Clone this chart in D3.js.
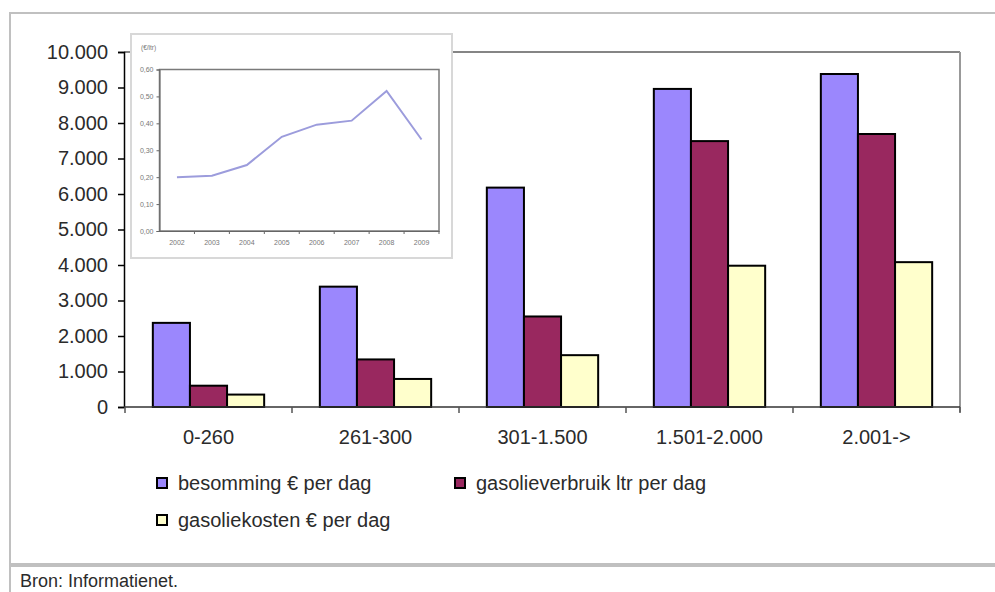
<!DOCTYPE html>
<html>
<head>
<meta charset="utf-8">
<script src="https://cdn.jsdelivr.net/npm/d3@7"></script>
<style>
  body { margin: 0; background: #fff; }
  svg { display: block; font-family: "Liberation Sans", Arial, sans-serif; }
</style>
</head>
<body>
<svg id="chart" width="995" height="592"></svg>
<script>
// main chart data
const categories = ["0-260", "261-300", "301-1.500", "1.501-2.000", "2.001->"];
const seriesNames = ["besomming € per dag", "gasolieverbruik ltr per dag", "gasoliekosten € per dag"];
const besomming = [2370, 3390, 6180, 8960, 9380];
const gasolieverbruik = [600, 1340, 2550, 7490, 7690];
const gasoliekosten = [350, 790, 1460, 3980, 4080];
const yTicks = [0, 1000, 2000, 3000, 4000, 5000, 6000, 7000, 8000, 9000, 10000];

// inset data
const years = ["2002", "2003", "2004", "2005", "2006", "2007", "2008", "2009"];
const prices = [0.20, 0.205, 0.245, 0.35, 0.395, 0.41, 0.52, 0.34];
const insetTicks = [0, 0.1, 0.2, 0.3, 0.4, 0.5, 0.6];

const colors = ["#9b87fd", "#99285f", "#ffffcc"];
const textColor = "#2b2b2b";

const nl = d3.formatLocale({ decimal: ",", thousands: ".", grouping: [3], currency: ["€", ""] });
const fmtInt = nl.format(",d");
const fmtDec = nl.format(".2f");

const svg = d3.select("#chart");

// outer frame
svg.append("line").attr("x1", 10).attr("x2", 995).attr("y1", 13).attr("y2", 13)
  .attr("stroke", "#c0c0c0").attr("stroke-width", 2);
svg.append("line").attr("x1", 10).attr("x2", 10).attr("y1", 12).attr("y2", 592)
  .attr("stroke", "#c0c0c0").attr("stroke-width", 2);
svg.append("rect").attr("x", 10).attr("y", 563).attr("width", 985).attr("height", 4)
  .attr("fill", "#c0c0c0");
svg.append("text").attr("x", 20).attr("y", 587).attr("font-size", 18)
  .attr("fill", textColor).text("Bron: Informatienet.");

const plot = { left: 124, right: 960, top: 52, bottom: 407 };

const x = d3.scaleBand().domain(categories).range([plot.left + 1, plot.right]);
const bw = x.bandwidth();
const x1 = d3.scaleBand().domain(seriesNames).range([bw / 6, bw * 5 / 6]);
const y = d3.scaleLinear().domain([0, 10000]).range([plot.bottom, plot.top]);

// plot area border (top and right)
svg.append("line").attr("x1", plot.left).attr("x2", plot.right).attr("y1", plot.top).attr("y2", plot.top)
  .attr("stroke", "#858585").attr("stroke-width", 2);
svg.append("line").attr("x1", plot.right).attr("x2", plot.right).attr("y1", plot.top).attr("y2", plot.bottom + 5)
  .attr("stroke", "#999").attr("stroke-width", 2);

// bars
const seriesData = [besomming, gasolieverbruik, gasoliekosten];
const groups = svg.append("g").selectAll("g")
  .data(categories)
  .join("g")
  .attr("transform", (d) => `translate(${x(d)},0)`);

groups.selectAll("rect")
  .data((d, i) => seriesNames.map((s, j) => ({ s: s, v: seriesData[j][i], j: j })))
  .join("rect")
  .attr("x", (d) => x1(d.s))
  .attr("y", (d) => y(d.v))
  .attr("width", x1.bandwidth())
  .attr("height", (d) => y(0) - y(d.v))
  .attr("fill", (d) => colors[d.j])
  .attr("stroke", "#000")
  .attr("stroke-width", 2);

// y axis
const yAxis = svg.append("g")
  .attr("transform", `translate(${plot.left},0)`)
  .call(d3.axisLeft(y).tickValues(yTicks).tickFormat(fmtInt).tickSize(6).tickPadding(10));
yAxis.select(".domain").attr("stroke", "#000").attr("stroke-width", 1.5);
yAxis.selectAll(".tick line").attr("stroke", "#000").attr("stroke-width", 1.5);
yAxis.selectAll("text").attr("font-size", 20).attr("fill", textColor)
  .attr("font-family", "Liberation Sans, Arial, sans-serif");

// x axis line + ticks at band boundaries
const xAxis = svg.append("g");
xAxis.append("line").attr("x1", plot.left).attr("x2", plot.right).attr("y1", plot.bottom).attr("y2", plot.bottom)
  .attr("stroke", "#333").attr("stroke-width", 1.5);
const boundaries = categories.map((c) => x(c)).concat([x(categories[categories.length - 1]) + bw]);
xAxis.selectAll(".xt")
  .data(boundaries)
  .join("line")
  .attr("class", "xt")
  .attr("x1", (d) => d).attr("x2", (d) => d)
  .attr("y1", plot.bottom).attr("y2", plot.bottom + 6)
  .attr("stroke", "#555").attr("stroke-width", 1.5);
xAxis.selectAll(".xl")
  .data(categories)
  .join("text")
  .attr("class", "xl")
  .attr("x", (d) => x(d) + bw / 2)
  .attr("y", 444)
  .attr("text-anchor", "middle")
  .attr("font-size", 20)
  .attr("fill", textColor)
  .text((d) => d);

// legend
const legendPos = [
  { x: 157, y: 483 },
  { x: 455, y: 483 },
  { x: 157, y: 520 }
];
const legend = svg.append("g").selectAll("g")
  .data(seriesNames)
  .join("g")
  .attr("transform", (d, i) => `translate(${legendPos[i].x},${legendPos[i].y})`);
legend.append("rect")
  .attr("x", 0).attr("y", -5).attr("width", 10).attr("height", 10)
  .attr("fill", (d, i) => colors[i])
  .attr("stroke", "#000").attr("stroke-width", 2);
legend.append("text")
  .attr("x", 21).attr("y", 7)
  .attr("font-size", 20)
  .attr("fill", textColor)
  .text((d) => d);

// inset line chart
const inset = svg.append("g");
inset.append("rect")
  .attr("x", 131).attr("y", 34).attr("width", 321).attr("height", 224)
  .attr("fill", "#fff").attr("stroke", "#d8d8d8").attr("stroke-width", 2);

const ip = { left: 159.5, right: 439, top: 69.5, bottom: 231 };
const ix = d3.scaleBand().domain(years).range([ip.left, ip.right]);
const iy = d3.scaleLinear().domain([0, 0.6]).range([ip.bottom, ip.top]);

inset.append("rect")
  .attr("x", ip.left).attr("y", ip.top)
  .attr("width", ip.right - ip.left).attr("height", ip.bottom - ip.top)
  .attr("fill", "none").attr("stroke", "#7a7a7a").attr("stroke-width", 1.5);

const iyAxis = inset.append("g")
  .attr("transform", `translate(${ip.left},0)`)
  .call(d3.axisLeft(iy).tickValues(insetTicks).tickFormat(fmtDec).tickSize(3).tickPadding(3));
iyAxis.select(".domain").attr("stroke", "#666");
iyAxis.selectAll(".tick line").attr("stroke", "#666");
iyAxis.selectAll("text").attr("font-size", 7).attr("fill", "#777")
  .attr("font-family", "Liberation Sans, Arial, sans-serif");

const ixAxis = inset.append("g")
  .attr("transform", `translate(0,${ip.bottom})`)
  .call(d3.axisBottom(ix).tickSize(0).tickPadding(9));
ixAxis.select(".domain").attr("stroke", "#666");
ixAxis.selectAll("text").attr("font-size", 7).attr("fill", "#777")
  .attr("font-family", "Liberation Sans, Arial, sans-serif");
inset.selectAll(".ixt")
  .data(years.slice(1).map((yr) => ix(yr)).concat([ip.right]))
  .join("line")
  .attr("class", "ixt")
  .attr("x1", (d) => d).attr("x2", (d) => d)
  .attr("y1", ip.bottom).attr("y2", ip.bottom + 3)
  .attr("stroke", "#666");

inset.append("text")
  .attr("x", 141).attr("y", 50)
  .attr("font-size", 6.5).attr("fill", "#777")
  .text("(€/ltr)");

const line = d3.line()
  .x((d, i) => ix(years[i]) + ix.bandwidth() / 2)
  .y((d) => iy(d));
inset.append("path")
  .datum(prices)
  .attr("d", line)
  .attr("fill", "none")
  .attr("stroke", "#9c9cdc")
  .attr("stroke-width", 2);
</script>
</body>
</html>
